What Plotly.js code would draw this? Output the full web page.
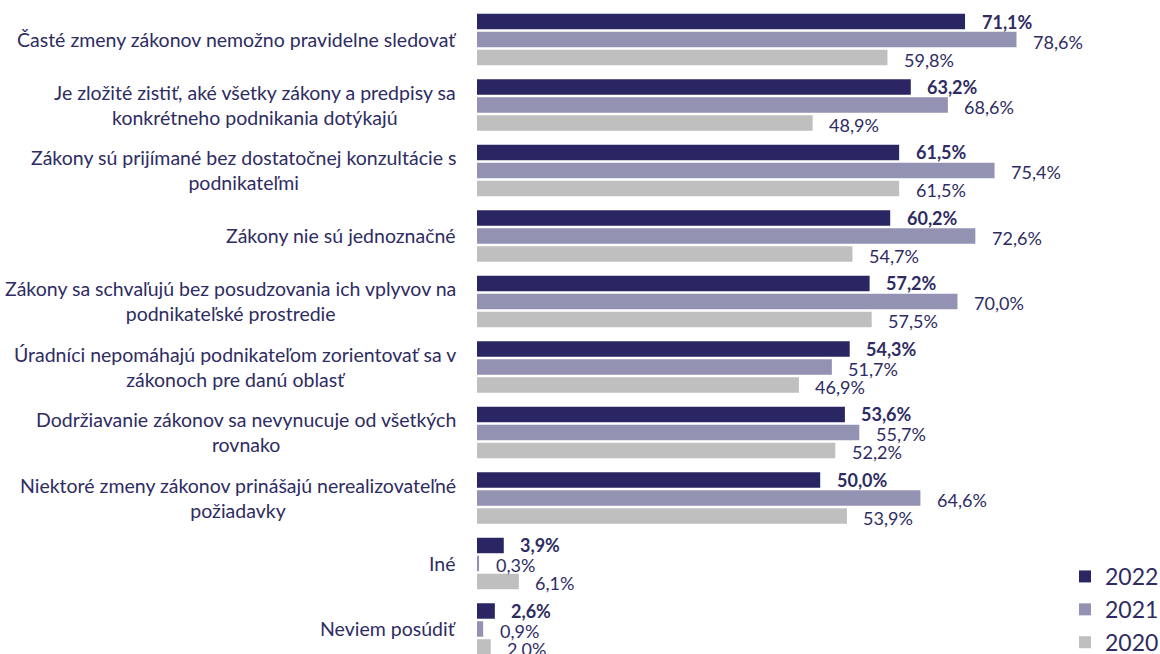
<!DOCTYPE html>
<html>
<head>
<meta charset="utf-8">
<script src="https://cdn.plot.ly/plotly-3.0.1.min.js"></script>
<style>html,body{margin:0;padding:0;background:#fff;}#chart{width:1160px;height:654px;}</style>
</head>
<body>
<div id="chart"></div>
<script>
const categories = [
  "Časté zmeny zákonov nemožno pravidelne sledovať",
  "Je zložité zistiť, aké všetky zákony a predpisy sa<br>konkrétneho podnikania dotýkajú",
  "Zákony sú prijímané bez dostatočnej konzultácie s<br>podnikateľmi",
  "Zákony nie sú jednoznačné",
  "Zákony sa schvaľujú bez posudzovania ich vplyvov na<br>podnikateľské prostredie",
  "Úradníci nepomáhajú podnikateľom zorientovať sa v<br>zákonoch pre danú oblasť",
  "Dodržiavanie zákonov sa nevynucuje od všetkých<br>rovnako",
  "Niektoré zmeny zákonov prinášajú nerealizovateľné<br>požiadavky",
  "Iné",
  "Neviem posúdiť"
];
const seriesNames = ["2022", "2021", "2020"];
const values2022 = [71.1, 63.2, 61.5, 60.2, 57.2, 54.3, 53.6, 50.0, 3.9, 2.6];
const values2021 = [78.6, 68.6, 75.4, 72.6, 70.0, 51.7, 55.7, 64.6, 0.3, 0.9];
const values2020 = [59.8, 48.9, 61.5, 54.7, 57.5, 46.9, 52.2, 53.9, 6.1, 2.0];

const colors = ["#2a2663", "#9492b2", "#bfbfbf"];
const textColor = "#2e2c62";
const FONT = "Lato, 'Open Sans', sans-serif";
const allValues = [values2022, values2021, values2020];

const traces = allValues.map((vals, i) => ({
  type: "bar",
  orientation: "h",
  name: seriesNames[i],
  x: vals,
  y: categories,
  marker: {color: colors[i]},
  hoverinfo: "x+name"
}));

const fmt = v => v.toFixed(1).replace(".", ",") + "%";
const annotations = [];
categories.forEach((c, k) => {
  annotations.push({
    xref: "paper", yref: "y", x: 0, y: c, xanchor: "right", yanchor: "middle",
    xshift: -19, text: c, showarrow: false, align: "center",
    font: {family: FONT, size: 19.5, color: textColor}
  });
});
const yshifts = [18, -2, -20];
allValues.forEach((vals, i) => {
  vals.forEach((v, k) => {
    annotations.push({
      xref: "x", yref: "y", x: v, y: categories[k], xanchor: "left", yanchor: "middle",
      xshift: 14.5, yshift: yshifts[i], text: i === 0 ? "<b>" + fmt(v) + "</b>" : fmt(v),
      showarrow: false,
      font: {family: FONT, size: 18, color: textColor}
    });
  });
});

const layout = {
  width: 1160, height: 654,
  margin: {l: 477, r: 0, t: 0, b: 0, autoexpand: false},
  paper_bgcolor: "#ffffff", plot_bgcolor: "#ffffff",
  barmode: "group", bargap: 0.176, bargroupgap: 0.14,
  font: {family: FONT, color: textColor},
  xaxis: {range: [0, 683 / 6.864], showgrid: false, zeroline: false, showticklabels: false, showline: false, fixedrange: true},
  yaxis: {type: "category", range: [9.382, -0.603], showgrid: false, zeroline: false, showticklabels: false, showline: false, ticks: "", fixedrange: true},
  showlegend: true,
  legend: {x: 0.8609, y: 0.1514, xanchor: "left", yanchor: "top", traceorder: "normal",
           font: {family: FONT, size: 23, color: textColor}, bgcolor: "rgba(0,0,0,0)", itemclick: false},
  annotations: annotations
};

Plotly.newPlot("chart", traces, layout, {displayModeBar: false, staticPlot: true});
</script>
</body>
</html>
